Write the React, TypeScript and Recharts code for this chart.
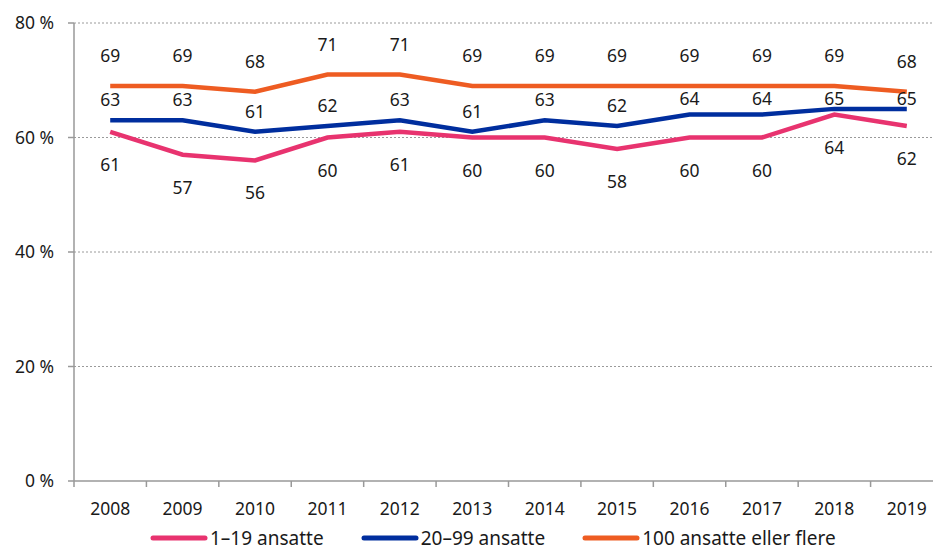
import { LineChart, Line, XAxis, YAxis, CartesianGrid, Legend, LabelList } from 'recharts';

const years = ['2008', '2009', '2010', '2011', '2012', '2013', '2014', '2015', '2016', '2017', '2018', '2019'];
const small = [61, 57, 56, 60, 61, 60, 60, 58, 60, 60, 64, 62];
const medium = [63, 63, 61, 62, 63, 61, 63, 62, 64, 64, 65, 65];
const large = [69, 69, 68, 71, 71, 69, 69, 69, 69, 69, 69, 68];
const yTicks = [0, 20, 40, 60, 80];

const data = years.map((year, i) => ({ year, small: small[i], medium: medium[i], large: large[i] }));

const FONT = '"Noto Sans", sans-serif';
const PINK = '#E8336F';
const BLUE = '#002E9E';
const ORANGE = '#EE5C22';

const CHART_W = 960;
const MARGIN_R = 17;
const AXIS_W = 74;
const BAND = (CHART_W - MARGIN_R - AXIS_W) / years.length;

const series = [
  { key: 'small', name: '1–19 ansatte', color: PINK },
  { key: 'medium', name: '20–99 ansatte', color: BLUE },
  { key: 'large', name: '100 ansatte eller flere', color: ORANGE },
];

function makeLabel(dy: number, minY?: number) {
  // eslint-disable-next-line @typescript-eslint/no-explicit-any
  return (props: any) => {
    let y = props.y + dy;
    if (minY !== undefined) y = Math.max(y, minY);
    return (
      <text x={props.x} y={y} textAnchor="middle" dominantBaseline="central" fontSize={17.5} fontFamily={FONT} fill="#1a1a1a">
        {props.value}
      </text>
    );
  };
}

// label at band centre, tick mark on the band's left edge (plus the last right edge)
// eslint-disable-next-line @typescript-eslint/no-explicit-any
function YearTick(props: any) {
  const { x, y, payload, index } = props;
  const top = y - 11;
  return (
    <g>
      <line x1={x - BAND / 2} y1={top} x2={x - BAND / 2} y2={top + 6} stroke="#999" strokeWidth={1.5} />
      {index === years.length - 1 && (
        <line x1={x + BAND / 2} y1={top} x2={x + BAND / 2} y2={top + 6} stroke="#999" strokeWidth={1.5} />
      )}
      <text x={x} y={top + 27} textAnchor="middle" dominantBaseline="central" fontSize={17.5} fontFamily={FONT} fill="#1a1a1a">
        {payload.value}
      </text>
    </g>
  );
}

function LegendContent() {
  return (
    <div style={{ display: 'flex', height: 20, alignItems: 'center', paddingLeft: 150, fontFamily: FONT, fontSize: 19, lineHeight: '19px', color: '#1a1a1a' }}>
      {series.map((s) => (
        <div key={s.key} style={{ display: 'flex', alignItems: 'center', marginRight: 37 }}>
          <svg width={58} height={8} style={{ marginRight: 2 }}>
            <line x1={3} y1={4} x2={55} y2={4} stroke={s.color} strokeWidth={5} strokeLinecap="round" />
          </svg>
          <span style={{ whiteSpace: 'nowrap' }}>{s.name}</span>
        </div>
      ))}
    </div>
  );
}

export default function App() {
  return (
    <div style={{ position: 'absolute', left: 0, top: 0, width: 933, height: 551, overflow: 'hidden', background: '#fff' }}>
      <LineChart width={CHART_W} height={551} data={data} margin={{ top: 23, right: MARGIN_R, left: 0, bottom: 3 }}>
        <CartesianGrid vertical={false} stroke="#9a9a9a" strokeDasharray="2 2" horizontalValues={[20, 40, 60, 80]} />
        <XAxis
          dataKey="year"
          scale="band"
          height={47}
          tick={YearTick}
          tickLine={false}
          tickSize={11}
          tickMargin={0}
          stroke="#999"
          strokeWidth={1.5}
          interval={0}
        />
        <YAxis
          domain={[0, 80]}
          ticks={yTicks}
          width={AXIS_W}
          tickFormatter={(v: number) => v + ' %'}
          tick={{ fontSize: 17.5, fill: '#1a1a1a', fontFamily: FONT }}
          tickSize={6}
          tickMargin={14}
          stroke="#999"
          strokeWidth={1.5}
        />
        <Legend verticalAlign="bottom" content={LegendContent} />
        <Line dataKey="small" name="1–19 ansatte" stroke={PINK} strokeWidth={4.5} dot={false} isAnimationActive={false}>
          <LabelList dataKey="small" content={makeLabel(32)} />
        </Line>
        <Line dataKey="medium" name="20–99 ansatte" stroke={BLUE} strokeWidth={4.5} dot={false} isAnimationActive={false}>
          <LabelList dataKey="medium" content={makeLabel(-21, 98)} />
        </Line>
        <Line dataKey="large" name="100 ansatte eller flere" stroke={ORANGE} strokeWidth={4.5} dot={false} isAnimationActive={false}>
          <LabelList dataKey="large" content={makeLabel(-31)} />
        </Line>
      </LineChart>
    </div>
  );
}
